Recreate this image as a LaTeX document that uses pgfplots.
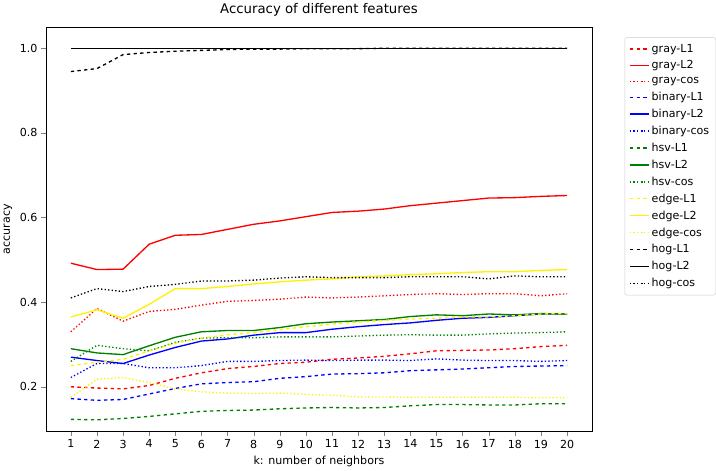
\documentclass[border=0pt]{standalone}
\usepackage{pgfplots}
\pgfplotsset{compat=1.18}
\usepackage{fontspec}
\setmainfont{DejaVu Sans}
\begin{document}
\begin{tikzpicture}
\begin{axis}[scale only axis, width=493pt, height=365pt,
 xmin=0.05, xmax=20.95, ymin=0.095, ymax=1.05,
 xtick={1,...,20}, ytick={0.2,0.4,0.6,0.8,1.0},
 yticklabel style={/pgf/number format/.cd,fixed,fixed zerofill,precision=1},
 /pgf/number format/assume math mode=true,
 tick label style={font=\fontsize{10}{12}\selectfont}, label style={font=\fontsize{10}{12}\selectfont},
 title={Accuracy of different features}, title style={font=\fontsize{12}{14}\selectfont},
 xlabel={k: number of neighbors}, ylabel={accuracy},
 legend style={at={(1.06,0.975)}, anchor=north west, font=\fontsize{10}{12}\selectfont, draw=gray!40, rounded corners=2pt, row sep=2.2pt, inner sep=4pt},
 legend cell align=left,
 legend image post style={line width=1.2pt},
 every axis plot/.append style={line width=1.2pt},
 tick align=outside, xtick pos=bottom, ytick pos=left]
\addplot[red,dashed,no marks] coordinates {(1,.200)(2,.197)(3,.195)(4,.203)(5,.22)(6,.233)(7,.243)(8,.248)(9,.255)(10,.258)(11,.265)(12,.268)(13,.272)(14,.278)(15,.285)(16,.286)(17,.287)(18,.29)(19,.295)(20,.298)};
\addlegendentry{gray-L1}
\addplot[red,no marks] coordinates {(1,.492)(2,.477)(3,.478)(4,.537)(5,.558)(6,.56)(7,.572)(8,.584)(9,.592)(10,.602)(11,.612)(12,.615)(13,.62)(14,.628)(15,.634)(16,.64)(17,.646)(18,.647)(19,.65)(20,.652)};
\addlegendentry{gray-L2}
\addplot[red,dotted,no marks] coordinates {(1,.33)(2,.385)(3,.355)(4,.378)(5,.383)(6,.393)(7,.402)(8,.404)(9,.407)(10,.412)(11,.41)(12,.412)(13,.415)(14,.418)(15,.42)(16,.418)(17,.42)(18,.42)(19,.415)(20,.42)};
\addlegendentry{gray-cos}
\addplot[blue,dashed,no marks] coordinates {(1,.172)(2,.168)(3,.170)(4,.183)(5,.196)(6,.207)(7,.210)(8,.212)(9,.220)(10,.224)(11,.230)(12,.231)(13,.233)(14,.238)(15,.240)(16,.242)(17,.245)(18,.248)(19,.249)(20,.250)};
\addlegendentry{binary-L1}
\addplot[blue,no marks] coordinates {(1,.270)(2,.262)(3,.255)(4,.275)(5,.293)(6,.308)(7,.313)(8,.322)(9,.328)(10,.328)(11,.336)(12,.342)(13,.347)(14,.351)(15,.357)(16,.362)(17,.364)(18,.368)(19,.372)(20,.372)};
\addlegendentry{binary-L2}
\addplot[blue,dotted,no marks] coordinates {(1,.222)(2,.255)(3,.255)(4,.245)(5,.245)(6,.250)(7,.260)(8,.260)(9,.262)(10,.263)(11,.262)(12,.263)(13,.263)(14,.262)(15,.266)(16,.263)(17,.262)(18,.262)(19,.260)(20,.262)};
\addlegendentry{binary-cos}
\addplot[green!50!black,dashed,no marks] coordinates {(1,.123)(2,.122)(3,.125)(4,.130)(5,.136)(6,.142)(7,.144)(8,.145)(9,.148)(10,.150)(11,.151)(12,.150)(13,.151)(14,.155)(15,.158)(16,.158)(17,.157)(18,.157)(19,.160)(20,.160)};
\addlegendentry{hsv-L1}
\addplot[green!50!black,no marks] coordinates {(1,.290)(2,.280)(3,.276)(4,.297)(5,.317)(6,.330)(7,.333)(8,.333)(9,.340)(10,.349)(11,.353)(12,.356)(13,.359)(14,.366)(15,.370)(16,.368)(17,.372)(18,.370)(19,.373)(20,.372)};
\addlegendentry{hsv-L2}
\addplot[green!50!black,dotted,no marks] coordinates {(1,.26)(2,.298)(3,.29)(4,.285)(5,.305)(6,.315)(7,.316)(8,.316)(9,.318)(10,.318)(11,.318)(12,.320)(13,.322)(14,.323)(15,.322)(16,.322)(17,.325)(18,.327)(19,.328)(20,.330)};
\addlegendentry{hsv-cos}
\addplot[yellow,dashed,no marks] coordinates {(1,.250)(2,.258)(3,.265)(4,.285)(5,.303)(6,.315)(7,.323)(8,.328)(9,.335)(10,.342)(11,.348)(12,.353)(13,.357)(14,.360)(15,.362)(16,.365)(17,.365)(18,.368)(19,.372)(20,.373)};
\addlegendentry{edge-L1}
\addplot[yellow,no marks] coordinates {(1,.365)(2,.382)(3,.362)(4,.395)(5,.432)(6,.432)(7,.437)(8,.443)(9,.448)(10,.452)(11,.455)(12,.460)(13,.462)(14,.465)(15,.467)(16,.470)(17,.472)(18,.472)(19,.475)(20,.477)};
\addlegendentry{edge-L2}
\addplot[yellow,dotted,no marks] coordinates {(1,.175)(2,.218)(3,.222)(4,.210)(5,.195)(6,.188)(7,.185)(8,.184)(9,.185)(10,.182)(11,.180)(12,.176)(13,.176)(14,.175)(15,.175)(16,.175)(17,.175)(18,.175)(19,.174)(20,.174)};
\addlegendentry{edge-cos}
\addplot[black,dashed,no marks] coordinates {(1,.945)(2,.952)(3,.985)(4,.99)(5,.993)(6,.995)(7,.997)(8,.998)(9,.998)(10,.999)(11,.999)(12,.999)(13,1)(14,1)(15,1)(16,1)(17,1)(18,1)(19,1)(20,1)};
\addlegendentry{hog-L1}
\addplot[black,no marks] coordinates {(1,1)(2,1)(3,1)(4,1)(5,1)(6,1)(7,1)(8,1)(9,1)(10,1)(11,1)(12,1)(13,1)(14,1)(15,1)(16,1)(17,1)(18,1)(19,1)(20,1)};
\addlegendentry{hog-L2}
\addplot[black,dotted,no marks] coordinates {(1,.41)(2,.432)(3,.425)(4,.437)(5,.442)(6,.450)(7,.450)(8,.452)(9,.457)(10,.460)(11,.458)(12,.458)(13,.458)(14,.460)(15,.460)(16,.460)(17,.455)(18,.462)(19,.460)(20,.460)};
\addlegendentry{hog-cos}
\end{axis}
\end{tikzpicture}
\end{document}
